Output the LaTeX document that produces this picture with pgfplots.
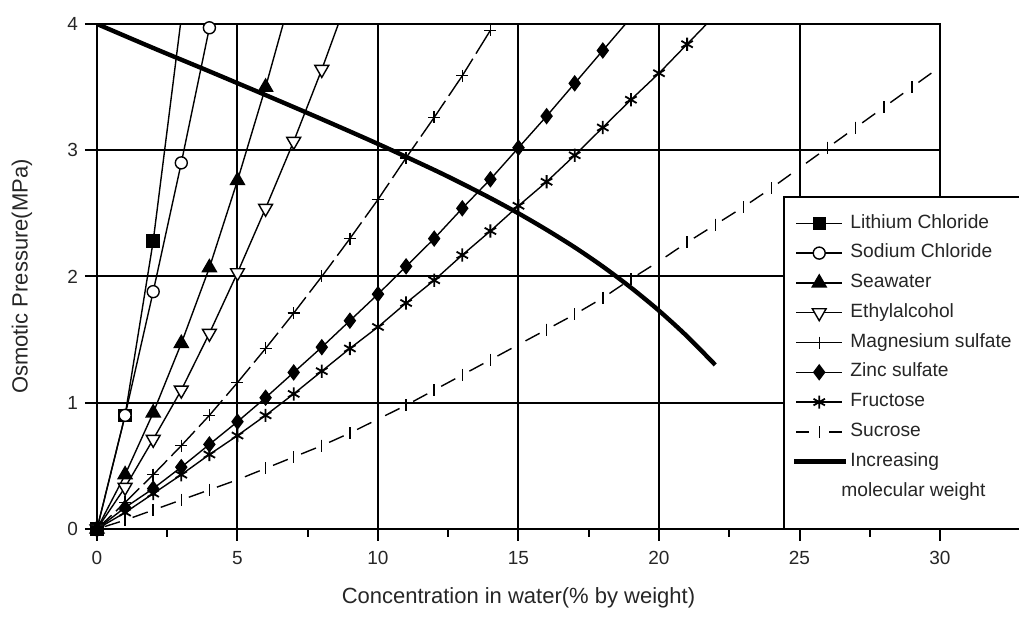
\documentclass[border=0pt]{standalone}
\usepackage{fontspec}
\setmainfont{Liberation Sans}
\usepackage{pgfplots}
\pgfplotsset{compat=1.18}
\begin{document}
\begin{tikzpicture}
\begin{axis}[
  scale only axis, width=421.5pt, height=252.5pt,
  xmin=0, xmax=30, ymin=0, ymax=4,
  xtick={0,5,...,30}, ytick={0,1,2,3,4},
  minor xtick={2.5,7.5,...,27.5},
  grid=major, major grid style={black, line width=1pt},
  axis line style={black, line width=1pt},
  tick align=outside, tick pos=left,
  major tick length=6pt, minor tick length=4pt,
  every tick/.style={black, line width=1pt},
  tick label style={font=\fontsize{9.5}{11}\selectfont, text=black!85},
  xticklabel style={yshift=-1.5pt},
  /pgf/number format/assume math mode=true,
  xlabel={Concentration in water(\% by weight)},
  ylabel={Osmotic Pressure(MPa)},
  xlabel style={at={(axis description cs:0.5,-0.1366)}, anchor=center, font=\fontsize{11}{13}\selectfont, text=black!85},
  ylabel style={at={(axis description cs:-0.089,0.5)}, anchor=center, font=\fontsize{11}{13}\selectfont, text=black!85},
  unbounded coords=jump,
  legend style={at={(axis description cs:0.8138,0.6594)}, anchor=north west,
    draw=black, line width=1pt, fill=white,
    font=\fontsize{9.6}{10}\selectfont, text=black!85,
    inner xsep=4pt, inner ysep=8pt, row sep=4.6pt,
    nodes={text height=6.5pt, text depth=1.8pt, inner sep=1pt}},
  legend cell align=left,
  legend image code/.code={\draw[mark indices={2}] plot coordinates {(0pt,0pt)(11.5pt,0pt)(23pt,0pt)};},
  every axis plot/.append style={black, line width=0.7pt},
]
% Lithium Chloride
\addplot[mark=square*, mark size=3pt, mark indices={1,2,3}, mark options={solid, fill=black}]
  coordinates {(0,0)(1,0.9)(2,2.28)(3,4.05)};
\addlegendentry{Lithium Chloride}
% Sodium Chloride
\addplot[mark=*, mark size=3pt, mark options={solid, fill=white}]
  coordinates {(0,0)(1,0.9)(2,1.88)(3,2.9)(4,3.97)};
\addlegendentry{Sodium Chloride}
% Seawater
\addplot[mark=triangle*, mark size=4pt, mark indices={1,2,3,4,5,6,7}, mark options={solid, fill=black}]
  coordinates {(0,0)(1,0.43)(2,0.92)(3,1.47)(4,2.07)(5,2.76)(6,3.5)(7,4.3)};
\addlegendentry{Seawater}
% Ethylalcohol
\addplot[mark=triangle*, mark size=4pt, mark indices={1,2,3,4,5,6,7,8,9}, mark options={solid, fill=white, rotate=180}]
  coordinates {(0,0)(1,0.33)(2,0.71)(3,1.1)(4,1.55)(5,2.03)(6,2.54)(7,3.07)(8,3.64)(9,4.25)};
\addlegendentry{Ethylalcohol}
% Magnesium sulfate
\addplot[mark=+, mark size=3pt, mark options={solid}, dash pattern=on 10pt off 3pt on 40pt,
  legend image code/.code={\draw[solid, mark indices={2}] plot coordinates {(0pt,0pt)(11.5pt,0pt)(23pt,0pt)};}]
  coordinates {(0,0)(1,0.21)(nan,nan)(1,0.21)(2,0.43)(nan,nan)(2,0.43)(3,0.66)(nan,nan)
  (3,0.66)(4,0.90)(nan,nan)(4,0.90)(5,1.16)(nan,nan)(5,1.16)(6,1.43)(nan,nan)
  (6,1.43)(7,1.71)(nan,nan)(7,1.71)(8,2.00)(nan,nan)(8,2.00)(9,2.30)(nan,nan)
  (9,2.30)(10,2.61)(nan,nan)(10,2.61)(11,2.94)(nan,nan)(11,2.94)(12,3.26)(nan,nan)
  (12,3.26)(13,3.59)(nan,nan)(13,3.59)(14,3.95)};
\addlegendentry{Magnesium sulfate}
% Zinc sulfate
\addplot[mark=diamond*, mark size=3.6pt, mark indices={1,2,3,4,5,6,7,8,9,10,11,12,13,14,15,16,17,18,19}, mark options={solid, fill=black}]
  coordinates {(0,0)(1,0.17)(2,0.32)(3,0.49)(4,0.67)(5,0.85)(6,1.04)(7,1.24)(8,1.44)(9,1.65)(10,1.86)
  (11,2.08)(12,2.3)(13,2.54)(14,2.77)(15,3.02)(16,3.27)(17,3.53)(18,3.79)(19,4.05)};
\addlegendentry{Zinc sulfate}
% Fructose
\addplot[mark=asterisk, mark size=3.3pt, mark indices={1,2,3,4,5,6,7,8,9,10,11,12,13,14,15,16,17,18,19,20,21,22}, mark options={solid, line width=0.9pt}]
  coordinates {(0,0)(1,0.13)(2,0.28)(3,0.43)(4,0.59)(5,0.74)(6,0.9)(7,1.07)(8,1.25)(9,1.43)(10,1.6)
  (11,1.79)(12,1.97)(13,2.17)(14,2.36)(15,2.56)(16,2.75)(17,2.96)(18,3.18)(19,3.4)(20,3.61)(21,3.84)(22,4.07)};
\addlegendentry{Fructose}
% Sucrose
\addplot[mark=|, mark size=3pt, mark options={solid}, dash pattern=on 0pt off 4pt on 8pt off 20pt,
  legend image code/.code={\draw[dash pattern=on 6.5pt off 10pt on 6.5pt] (0pt,0pt)--(23pt,0pt); \draw[solid] (11.5pt,-3pt)--(11.5pt,3pt);}]
  coordinates {(0,0)(1,0.07)(nan,nan)(1,0.07)(2,0.15)(nan,nan)(2,0.15)(3,0.23)(nan,nan)
  (3,0.23)(4,0.31)(nan,nan)(4,0.31)(5,0.39)(nan,nan)(5,0.39)(6,0.48)(nan,nan)
  (6,0.48)(7,0.57)(nan,nan)(7,0.57)(8,0.66)(nan,nan)(8,0.66)(9,0.76)(nan,nan)
  (9,0.76)(10,0.87)(nan,nan)(10,0.87)(11,0.98)(nan,nan)(11,0.98)(12,1.10)(nan,nan)
  (12,1.10)(13,1.22)(nan,nan)(13,1.22)(14,1.34)(nan,nan)(14,1.34)(15,1.46)(nan,nan)
  (15,1.46)(16,1.58)(nan,nan)(16,1.58)(17,1.70)(nan,nan)(17,1.70)(18,1.83)(nan,nan)
  (18,1.83)(19,1.98)(nan,nan)(19,1.98)(20,2.12)(nan,nan)(20,2.12)(21,2.27)(nan,nan)
  (21,2.27)(22,2.41)(nan,nan)(22,2.41)(23,2.55)(nan,nan)(23,2.55)(24,2.70)(nan,nan)
  (24,2.70)(25,2.86)(nan,nan)(25,2.86)(26,3.02)(nan,nan)(26,3.02)(27,3.18)(nan,nan)
  (27,3.18)(28,3.34)(nan,nan)(28,3.34)(29,3.50)(nan,nan)(29,3.50)(30,3.66)};
\addlegendentry{Sucrose}
% Increasing molecular weight
\addplot[no marks, line width=2.2pt, smooth, legend image code/.code={\draw (-1pt,0pt)--(25pt,0pt);}]
  coordinates {(0,4.0)(2,3.81)(4,3.625)(6,3.437)(8,3.246)(10,3.05)(12,2.844)(13,2.735)(14,2.621)(15,2.50)
  (16,2.37)(17,2.231)(18,2.079)(19,1.912)(20,1.729)(21,1.526)(22,1.30)};
\addlegendentry{Increasing}
\addlegendimage{empty legend}
\addlegendentry{\hspace*{-4.5pt}molecular weight}
\addlegendimage{empty legend}
\addlegendentry[text height=0pt, text depth=0pt, inner sep=0pt]{}
\end{axis}
\pgfresetboundingbox
\path ([shift={(-48.5pt,-45pt)}]current axis.south west) rectangle ([shift={(461pt,264.5pt)}]current axis.south west);
\end{tikzpicture}
\end{document}
